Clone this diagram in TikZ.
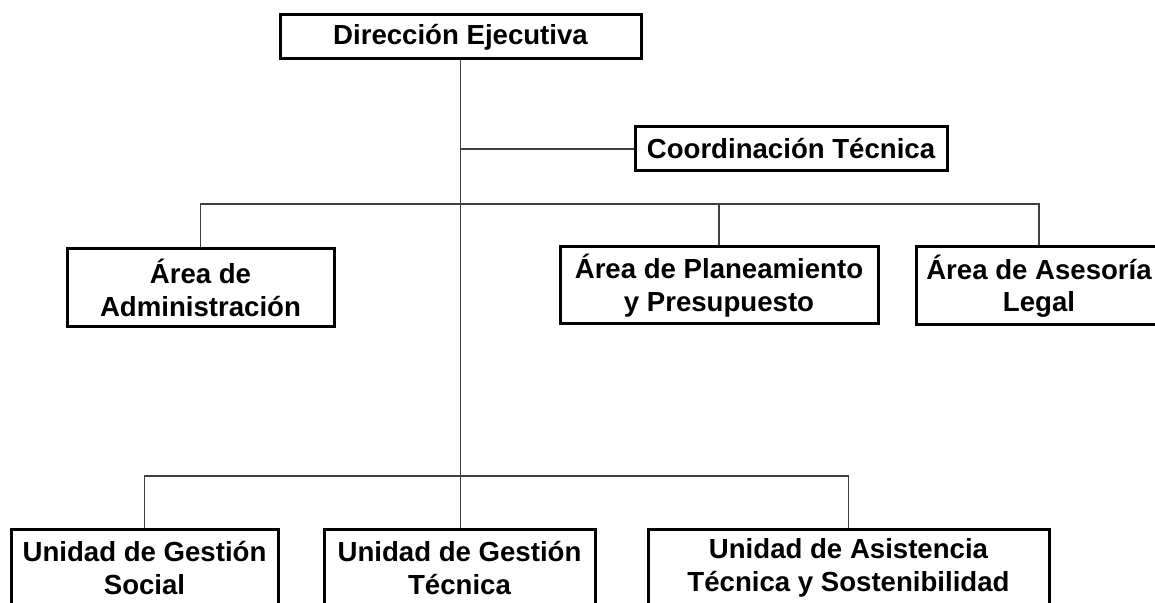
\documentclass[tikz,border=0pt]{standalone}
\usepackage{fontspec}
\setmainfont{Liberation Sans}
\usetikzlibrary{positioning}
\tikzset{
	unit/.style={draw, line width=1.5pt, align=center, inner sep=0pt, font=\bfseries\fontsize{13.8}{16.2}\selectfont}, % every box of the chart
	link/.style={line width=0.6pt, draw=black!75}, % lines between the boxes
}

\begin{document}
\begin{tikzpicture}[x=0.5pt, y=-0.5pt]
					\useasboundingbox (0,0) rectangle (1155,603);
					\node[unit, minimum width=180.5pt, minimum height=22pt] (dir) at (460.5,37) {Dirección Ejecutiva};
					\node[unit, minimum width=156pt, minimum height=22pt] (coord) at (791,149) {Coordinación Técnica};
					\node[unit, minimum width=133.5pt, minimum height=39pt] (adm) at (200.5,288) {Área de\\Administración};
					\node[unit, minimum width=159pt, minimum height=38.5pt] (plan) at (719,285.5) {Área de Planeamiento\\y Presupuesto};
					\node[unit, minimum width=123pt, minimum height=39pt] (leg) at (1039,286) {Área de Asesoría\\Legal};
					\node[unit, minimum width=133.5pt, minimum height=39pt] (soc) at (144.5,568) {Unidad de Gestión\\Social};
					\node[unit, minimum width=135.5pt, minimum height=39pt] (tec) at (459.5,568) {Unidad de Gestión\\Técnica};
					\node[unit, minimum width=200.5pt, minimum height=39pt] (sos) at (848.5,568) {Unidad de Asistencia\\Técnica y Sostenibilidad};
					\coordinate (bar1) at (0,204);
					\coordinate (bar2) at (0,476);
					\draw[link] (dir.south) -- (dir.south |- tec.north)
							(dir.south |- coord.west) -- (coord.west)
							(adm.north) -- (adm.north |- bar1) -- (leg.north |- bar1) -- (leg.north)
							(plan.north |- bar1) -- (plan.north)
							(soc.north) -- (soc.north |- bar2) -- (sos.north |- bar2) -- (sos.north);
				\end{tikzpicture}
\end{document}
